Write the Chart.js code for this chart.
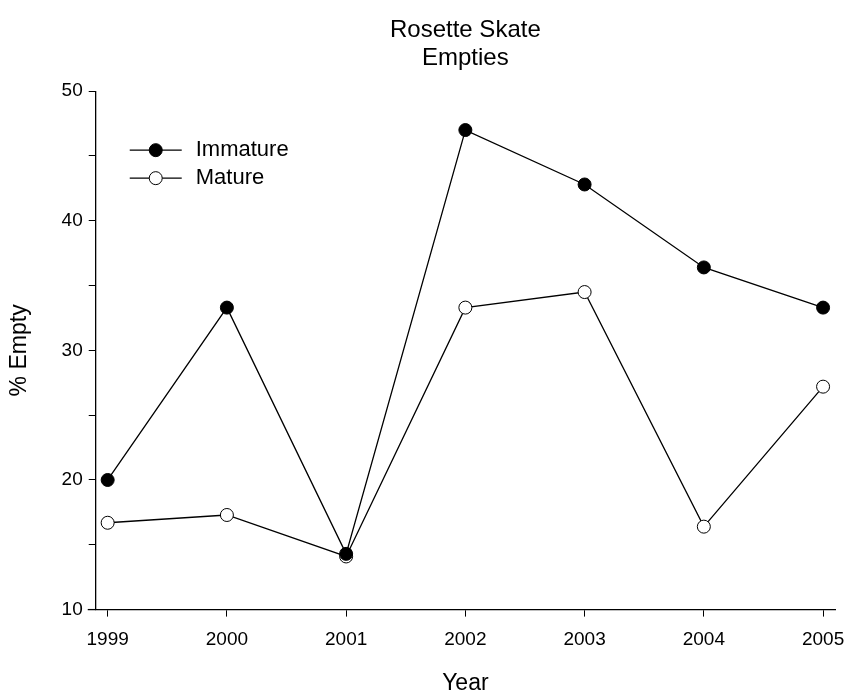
<!DOCTYPE html>
<html>
<head>
<meta charset="utf-8">
<script src="https://cdn.jsdelivr.net/npm/chart.js@4"></script>
<style>
    body { margin: 0; background: #fff; }
    #wrap { width: 847px; height: 698px; }
</style>
</head>
<body>
<div id="wrap"><canvas id="chart"></canvas></div>
<script>
const years = [1999, 2000, 2001, 2002, 2003, 2004, 2005];
const immature = [20.0, 33.3, 14.3, 47.0, 42.8, 36.4, 33.3];
const mature = [16.7, 17.3, 14.1, 33.3, 34.5, 16.4, 27.2];
const seriesNames = ["Immature", "Mature"];

const fontFamily = "'Liberation Sans', Arial, sans-serif";

function toPoints(values) {
    return years.map((y, i) => ({ x: y, y: values[i] }))
}

// legend drawn inside the plot: line + marker + label
const lineLegend = {
    id: 'lineLegend',
    afterDatasetsDraw(chart) {
        const ctx = chart.ctx;
        const area = chart.chartArea;
        const x0 = area.left + 34;
        ctx.save();
        // x axis runs a little past the y axis on the left
        ctx.strokeStyle = '#000';
        ctx.lineWidth = 1.3;
        ctx.beginPath();
        ctx.moveTo(area.left - 8, area.bottom);
        ctx.lineTo(area.left, area.bottom);
        ctx.stroke();

        chart.data.datasets.forEach((ds, i) => {
            const y = area.top + 59 + i * 28;
            ctx.strokeStyle = '#000';
            ctx.lineWidth = 1.3;
            ctx.beginPath();
            ctx.moveTo(x0, y);
            ctx.lineTo(x0 + 52, y);
            ctx.stroke();
            ctx.beginPath();
            ctx.arc(x0 + 26, y, 6.5, 0, Math.PI * 2);
            ctx.fillStyle = ds.pointBackgroundColor;
            ctx.fill();
            ctx.lineWidth = 1;
            ctx.stroke();
            ctx.fillStyle = '#000';
            ctx.font = '22px ' + fontFamily;
            ctx.textBaseline = 'middle';
            ctx.fillText(ds.label, x0 + 66, y);
        });
        ctx.restore();
    }
}

function renderChart() {
    const ctx = document.getElementById('chart').getContext('2d');
    const chart = new Chart(ctx, {
        type: 'line',
        data: {
            datasets: [
                {
                    label: seriesNames[0],
                    data: toPoints(immature),
                    borderColor: '#000',
                    borderWidth: 1.3,
                    pointRadius: 6.5,
                    pointBorderWidth: 1,
                    pointBorderColor: '#000',
                    pointBackgroundColor: '#000'
                },
                {
                    label: seriesNames[1],
                    data: toPoints(mature),
                    borderColor: '#000',
                    borderWidth: 1.3,
                    pointRadius: 6.5,
                    pointBorderWidth: 1,
                    pointBorderColor: '#000',
                    pointBackgroundColor: '#fff'
                }
            ]
        },
        options: {
            responsive: true,
            maintainAspectRatio: false,
            animation: false,
            layout: { padding: { top: 0, right: 12, bottom: 1, left: 2 } },
            plugins: {
                legend: { display: false },
                tooltip: { enabled: false },
                title: {
                    display: true,
                    fullSize: false,
                    text: ['Rosette Skate', 'Empties'],
                    color: '#000',
                    font: { family: fontFamily, size: 24, weight: 'normal', lineHeight: 1.17 },
                    padding: { top: 16, bottom: 19 }
                }
            },
            scales: {
                x: {
                    type: 'linear',
                    min: 1998.9,
                    max: 2005.1,
                    afterBuildTicks: axis => { axis.ticks = years.map(v => ({ value: v })) },
                    afterFit: axis => { axis.paddingLeft = 0; axis.paddingRight = 0 },
                    grid: { drawOnChartArea: false, tickLength: 7, tickColor: '#000', tickWidth: 1 },
                    border: { color: '#000', width: 1.3 },
                    ticks: {
                        color: '#000',
                        padding: 12,
                        maxRotation: 0,
                        font: { family: fontFamily, size: 19 },
                        callback: v => String(v)
                    },
                    title: {
                        display: true,
                        text: 'Year',
                        color: '#000',
                        font: { family: fontFamily, size: 23 },
                        padding: { top: 6, bottom: 0 }
                    }
                },
                y: {
                    min: 10,
                    max: 50,
                    ticks: {
                        stepSize: 5,
                        color: '#000',
                        padding: 6,
                        font: { family: fontFamily, size: 19 },
                        callback: v => (v % 10 === 0 ? String(v) : '')
                    },
                    grid: { drawOnChartArea: false, tickLength: 7, tickColor: '#000', tickWidth: 1 },
                    border: { color: '#000', width: 1.3 },
                    title: {
                        display: true,
                        text: '% Empty',
                        color: '#000',
                        font: { family: fontFamily, size: 23 },
                        padding: { top: 4, bottom: 22 }
                    }
                }
            }
        },
        plugins: [lineLegend]
    })
}

renderChart()
</script>
</body>
</html>
